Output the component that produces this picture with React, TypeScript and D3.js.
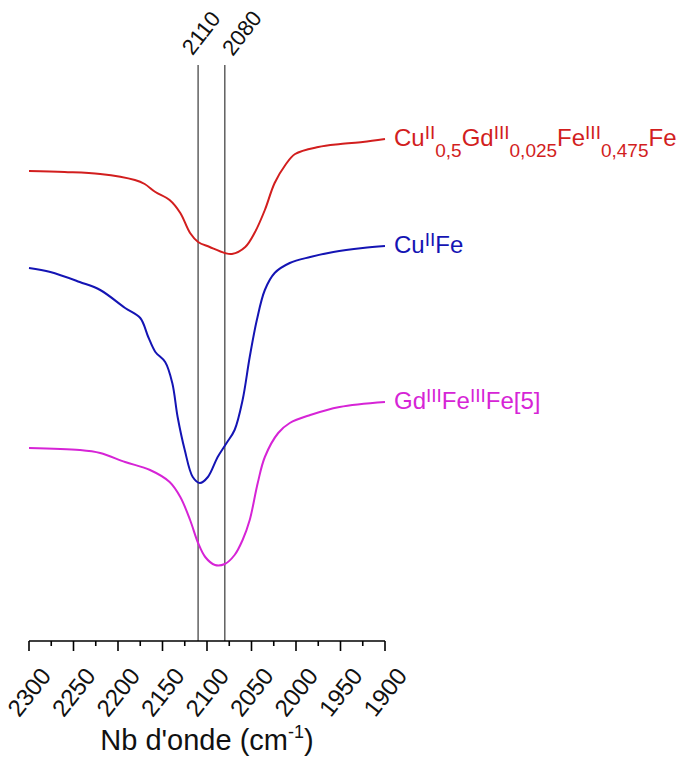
import React from "react";
import * as d3 from "d3";

// ---- data ----
const majorTicks = [2300, 2250, 2200, 2150, 2100, 2050, 2000, 1950, 1900];
const minorTicks = [2275, 2225, 2175, 2125, 2075, 2025, 1975, 1925];
const markerLines = [2110, 2080];

const redWn = [2300, 2260, 2220, 2181, 2170, 2158, 2142, 2130, 2119, 2110, 2097, 2080, 2072, 2057, 2046, 2035, 2024, 2012, 2001, 1975, 1950, 1925, 1900];
const redT = [469, 468, 466, 460, 456, 448, 440, 427, 407, 398, 393, 387, 386, 393, 408, 430, 457, 475, 486, 493, 496, 498, 501];

const blueWn = [2300, 2276, 2243, 2220, 2192, 2175, 2166, 2158, 2147, 2139, 2133, 2125, 2116, 2108, 2099, 2088, 2078, 2069, 2060, 2052, 2044, 2035, 2024, 2007, 1984, 1958, 1925, 1900];
const blueT = [372, 368, 358, 350, 332, 322, 303, 288, 278, 257, 223, 190, 163, 157, 163, 183, 197, 210, 240, 283, 320, 350, 367, 377, 383, 388, 392, 394];

const magWn = [2300, 2243, 2220, 2192, 2164, 2142, 2130, 2119, 2110, 2102, 2091, 2080, 2069, 2060, 2052, 2043, 2035, 2020, 2007, 1984, 1951, 1900];
const magT = [192, 190, 187, 178, 170, 158, 143, 120, 97, 83, 75, 76, 85, 100, 120, 157, 183, 207, 217, 225, 233, 238];

type Part = { t: string; k: "n" | "sup" | "sub" };
const redLabel: Part[] = [
  { t: "Cu", k: "n" }, { t: "II", k: "sup" }, { t: "0,5", k: "sub" },
  { t: "Gd", k: "n" }, { t: "III", k: "sup" }, { t: "0,025", k: "sub" },
  { t: "Fe", k: "n" }, { t: "III", k: "sup" }, { t: "0,475", k: "sub" },
  { t: "Fe", k: "n" },
];
const blueLabel: Part[] = [{ t: "Cu", k: "n" }, { t: "II", k: "sup" }, { t: "Fe", k: "n" }];
const magLabel: Part[] = [
  { t: "Gd", k: "n" }, { t: "III", k: "sup" }, { t: "Fe", k: "n" }, { t: "III", k: "sup" }, { t: "Fe[5]", k: "n" },
];

const series = [
  { wn: redWn, t: redT, color: "#d21e1e", label: redLabel },
  { wn: blueWn, t: blueT, color: "#1414b4", label: blueLabel },
  { wn: magWn, t: magT, color: "#d624d6", label: magLabel },
];

const FONT = "Arial, 'Liberation Sans', Helvetica, sans-serif";

function Label({ parts, x, y, color }: { parts: Part[]; x: number; y: number; color: string }) {
  let level = 0;
  const spans = parts.map((p, i) => {
    const target = p.k === "sup" ? -7 : p.k === "sub" ? 11 : 0;
    const dy = target - level;
    level = target;
    return (
      <tspan key={i} dy={dy} fontSize={p.k === "n" ? 24 : 19}>
        {p.t}
      </tspan>
    );
  });
  return (
    <text x={x} y={y} fill={color} fontFamily={FONT}>
      {spans}
    </text>
  );
}

export default function App() {
  const W = 680, H = 758;
  const axisY = 641;
  const x = d3.scaleLinear().domain([2300, 1900]).range([29, 385]);
  const y = d3.scaleLinear().domain([0, 600]).range([640, 40]);
  const line = d3
    .line<[number, number]>()
    .x((d) => x(d[0]))
    .y((d) => y(d[1]))
    .curve(d3.curveCatmullRom.alpha(0.5));

  return (
    <div style={{ position: "absolute", left: 0, top: 0 }}>
      <svg width={W} height={H} style={{ display: "block", background: "#fff" }}>
        {/* marker lines */}
        {markerLines.map((m) => (
          <line key={m} x1={x(m)} x2={x(m)} y1={65} y2={axisY} stroke="#555" strokeWidth={1.4} />
        ))}
        {markerLines.map((m, i) => (
          <text
            key={"l" + m}
            transform={`translate(${x(m) + (i === 0 ? 3 : 17)},33) rotate(-52)`}
            textAnchor="middle"
            dominantBaseline="central"
            fontFamily={FONT}
            fontSize={22}
            fill="#111"
          >
            {m}
          </text>
        ))}

        {/* curves */}
        {series.map((s, i) => (
          <path
            key={i}
            d={line(s.wn.map((w, j) => [w, s.t[j]] as [number, number])) || ""}
            fill="none"
            stroke={s.color}
            strokeWidth={2}
          />
        ))}
        {series.map((s, i) => (
          <Label
            key={"lab" + i}
            parts={s.label}
            x={x(s.wn[s.wn.length - 1]) + 9}
            y={y(s.t[s.t.length - 1]) + 7}
            color={s.color}
          />
        ))}

        {/* x axis */}
        <line x1={x(2300)} x2={x(1900)} y1={axisY} y2={axisY} stroke="#000" strokeWidth={1.6} />
        {majorTicks.map((t) => (
          <line key={t} x1={x(t)} x2={x(t)} y1={axisY} y2={axisY + 10} stroke="#000" strokeWidth={1.6} />
        ))}
        {minorTicks.map((t) => (
          <line key={t} x1={x(t)} x2={x(t)} y1={axisY} y2={axisY + 5} stroke="#000" strokeWidth={1.6} />
        ))}
        {majorTicks.map((t) => (
          <text
            key={"t" + t}
            transform={`translate(${x(t)},692) rotate(-52)`}
            textAnchor="middle"
            dominantBaseline="central"
            fontFamily={FONT}
            fontSize={24}
            fill="#111"
          >
            {t}
          </text>
        ))}
        <text x={(x(2300) + x(1900)) / 2} y={750} textAnchor="middle" fontFamily={FONT} fontSize={29} fill="#111">
          Nb d'onde (cm
          <tspan dy={-12} fontSize={18}>-1</tspan>
          <tspan dy={12}>)</tspan>
        </text>
      </svg>
    </div>
  );
}
